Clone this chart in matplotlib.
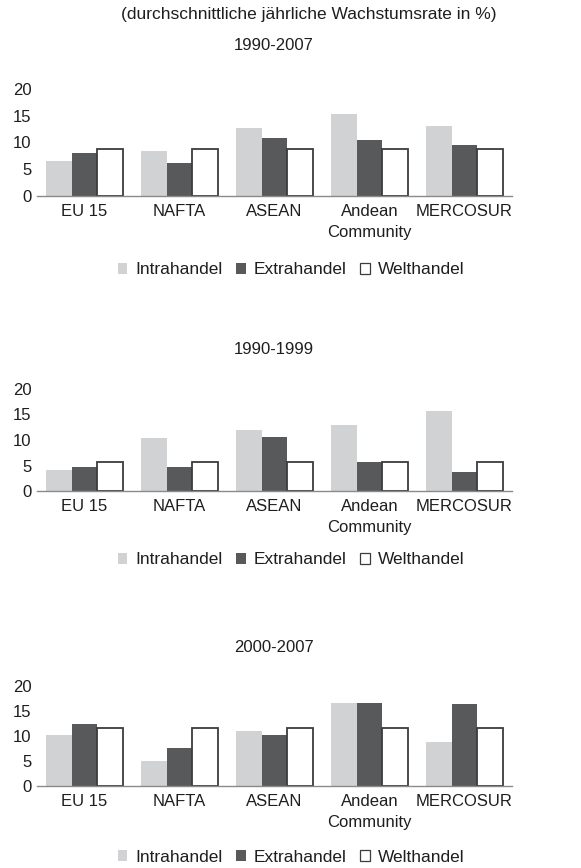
import matplotlib
matplotlib.use("Agg")
import matplotlib.pyplot as plt
import numpy as np

plt.rcParams['font.family'] = ['Liberation Sans', 'DejaVu Sans']

categories = ["EU 15", "NAFTA", "ASEAN", "Andean\nCommunity", "MERCOSUR"]
series_names = ["Intrahandel", "Extrahandel", "Welthandel"]
periods = ["1990-2007", "1990-1999", "2000-2007"]

intra_9007 = [6.6, 8.5, 12.75, 15.25, 13.0]
extra_9007 = [8.1, 6.25, 10.9, 10.5, 9.6]
welt_9007 = [8.75, 8.75, 8.75, 8.75, 8.75]

intra_9099 = [4.2, 10.3, 12.05, 13.0, 15.6]
extra_9099 = [4.8, 4.8, 10.5, 5.7, 3.8]
welt_9099 = [5.7, 5.7, 5.7, 5.7, 5.7]

intra_0007 = [10.3, 5.1, 11.1, 16.7, 8.9]
extra_0007 = [12.5, 7.7, 10.3, 16.7, 16.5]
welt_0007 = [11.7, 11.7, 11.7, 11.7, 11.7]

data = [
    (intra_9007, extra_9007, welt_9007),
    (intra_9099, extra_9099, welt_9099),
    (intra_0007, extra_0007, welt_0007),
]
yticks = [0, 5, 10, 15, 20]

W, H = 581, 868
fig = plt.figure(figsize=(W / 100, H / 100), dpi=100)

# pixel layout: (zero_y, top_y, title_y, legend_y)
layout = [(196, 89, 45, 270), (491, 389, 350, 560), (786, 686, 647, 857)]
left_px, right_px = 37, 512

colors = ["#d1d2d4", "#58595b", "white"]
edges = ["#d1d2d4", "#58595b", "#3c3c3c"]
fs = 12
bw = 0.27
tc = "#1e1e1e"

fig.text(309 / W, 1 - 14 / H, "(durchschnittliche jährliche Wachstumsrate in %)",
         ha='center', va='center', fontsize=12.5, color=tc)

for (zero_y, top_y, title_y, leg_y), period, vals in zip(layout, periods, data):
    ax = fig.add_axes([left_px / W, 1 - zero_y / H, (right_px - left_px) / W, (zero_y - top_y) / H])
    x = np.arange(len(categories))
    handles = []
    for k, (v, c, e) in enumerate(zip(vals, colors, edges)):
        lw = 1.3 if k == 2 else 0
        b = ax.bar(x + (k - 1) * bw, v, width=bw, color=c, edgecolor=e, linewidth=lw,
                   label=series_names[k], zorder=2)
        handles.append(b)
    ax.set_xlim(-0.5, len(categories) - 0.5)
    ax.set_ylim(0, 20)
    ax.set_yticks(yticks)
    ax.set_xticks(x)
    ax.set_xticklabels(categories, fontsize=fs, color=tc, linespacing=1.45)
    ax.tick_params(axis='both', length=0, labelsize=fs, colors=tc)
    ax.tick_params(axis='y', pad=4)
    ax.tick_params(axis='x', pad=6)
    for s in ['top', 'right', 'left']:
        ax.spines[s].set_visible(False)
    ax.spines['bottom'].set_color("#8a8a8a")
    ax.spines['bottom'].set_linewidth(1.0)
    ax.set_facecolor('none')
    fig.text(274 / W, 1 - title_y / H, period, ha='center', va='center', fontsize=fs, color=tc)
    leg = fig.legend(handles=handles, labels=series_names, loc='center',
                     bbox_to_anchor=(291 / W, 1 - leg_y / H), ncol=3, frameon=False,
                     prop={'size': 12.5}, handlelength=0.55, handleheight=0.55, handletextpad=0.45,
                     columnspacing=0.8, borderpad=0)
    for t in leg.get_texts():
        t.set_color(tc)
    for h in leg.legend_handles:
        if h.get_facecolor()[:3] == (1.0, 1.0, 1.0):
            h.set_linewidth(0.9)

fig.savefig("out.png", dpi=100)
